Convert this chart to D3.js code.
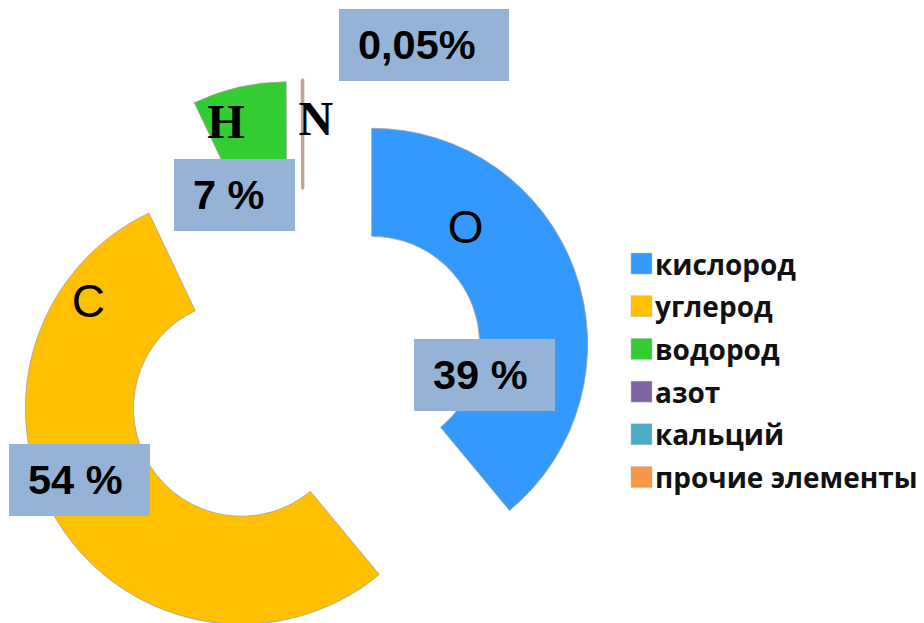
<!DOCTYPE html>
<html>
<head>
<meta charset="utf-8">
<script src="https://cdn.jsdelivr.net/npm/d3@7"></script>
<style>
  html, body { margin: 0; padding: 0; background: #fff; }
  svg { display: block; }
</style>
</head>
<body>
<svg id="chart" width="924" height="623"></svg>
<script>
// ---- data ----
const elements = ["кислород", "углерод", "водород", "азот", "кальций", "прочие элементы"];
const symbols = ["O", "C", "H", "N", "", ""];
const values = [39, 54, 7, 0.05, 0, 0];
const valueLabels = ["39 %", "54 %", "7 %", "0,05%", "", ""];
const colors = ["#3399ff", "#ffc000", "#33cc33", "#8064a2", "#4bacc6", "#f79646"];

// ---- layout ----
const W = 924, H = 623;
const cx = 303, cy = 369;
const outerR = 216, innerR = 108, explode = 73;

const svg = d3.select("#chart");

const pie = d3.pie().sort(null).value(d => d.value).startAngle(0).endAngle(2 * Math.PI);
const arcs = pie(elements.map((name, i) => ({ name, value: values[i], i })));
const arcGen = d3.arc().innerRadius(innerR).outerRadius(outerR);

const g = svg.append("g").attr("transform", `translate(${cx},${cy})`);

function offset(a) {
  const m = (a.startAngle + a.endAngle) / 2;
  return [explode * Math.sin(m), -explode * Math.cos(m)];
}

g.selectAll("path.slice")
  .data(arcs.filter(a => a.data.value > 0))
  .join("path")
  .attr("class", "slice")
  .attr("transform", a => { const o = offset(a); return `translate(${o[0]},${o[1]})`; })
  .attr("d", arcGen)
  .attr("fill", a => colors[a.data.i])
  .attr("stroke", a => a.data.value < 1 ? "#c3a58e" : "#a6a09a")
  .attr("stroke-width", a => a.data.value < 1 ? 3 : 0.8)
  .attr("stroke-linejoin", "round");

// ---- element symbols (annotations placed relative to each exploded slice centre) ----
const symbolPos = [
  { dx: 94, dy: -101, font: "'Liberation Sans', Arial, sans-serif", weight: 400, size: 46 },
  { dx: -153, dy: -91, font: "'Liberation Sans', Arial, sans-serif", weight: 400, size: 46 },
  { dx: -61, dy: -160, font: "'Liberation Serif', 'Times New Roman', serif", weight: 700, size: 48 },
  { dx: 13, dy: -161, font: "'Liberation Serif', 'Times New Roman', serif", weight: 700, size: 48 }
];
arcs.forEach((a, i) => {
  if (!symbols[i] || !symbolPos[i]) return;
  const o = offset(a), p = symbolPos[i];
  g.append("text")
    .attr("x", o[0] + p.dx).attr("y", o[1] + p.dy)
    .attr("text-anchor", "middle")
    .style("font-family", p.font)
    .style("font-weight", p.weight)
    .style("font-size", p.size + "px")
    .attr("fill", "#000")
    .text(symbols[i]);
});

// ---- value label boxes ----
const boxes = [
  { x: 414, y: 339, w: 141, h: 72 },
  { x: 9, y: 444, w: 141, h: 72 },
  { x: 174, y: 159, w: 121, h: 72 },
  { x: 339, y: 9, w: 170, h: 72 }
];
boxes.forEach((b, i) => {
  const lg = svg.append("g");
  lg.append("rect").attr("x", b.x).attr("y", b.y).attr("width", b.w).attr("height", b.h)
    .attr("fill", "#95b3d7");
  lg.append("text").attr("x", b.x + 19).attr("y", b.y + 50)
    .style("font-family", "'Liberation Sans', Arial, sans-serif")
    .style("font-weight", 700)
    .style("font-size", "41.5px")
    .attr("fill", "#000")
    .text(valueLabels[i]);
});

// ---- legend ----
const legend = svg.append("g").attr("transform", "translate(631,253)");
const rowH = 42.7;
const leg = legend.selectAll("g.item").data(elements).join("g")
  .attr("class", "item")
  .attr("transform", (d, i) => `translate(0,${i * rowH})`);
leg.append("rect").attr("x", 0).attr("y", 0).attr("width", 21).attr("height", 21)
  .attr("fill", (d, i) => colors[i]).attr("stroke", "#bbb").attr("stroke-width", 0.5);
leg.append("text").attr("x", 24).attr("y", 21.5)
  .style("font-family", "'Open Sans', 'Noto Sans', sans-serif")
  .style("font-weight", 700)
  .style("font-size", "28px")
  .attr("fill", "#111")
  .text(d => d);
</script>
</body>
</html>
